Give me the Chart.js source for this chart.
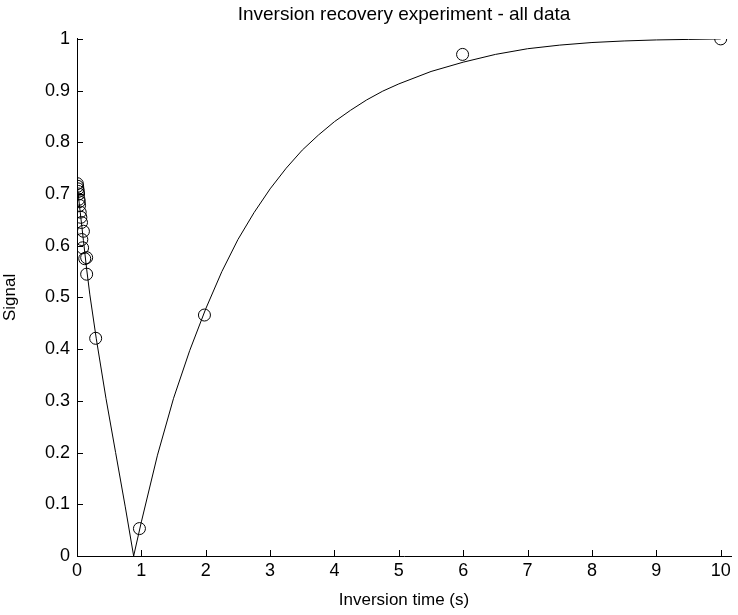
<!DOCTYPE html>
<html>
<head>
<meta charset="utf-8">
<title>Inversion recovery experiment - all data</title>
<script src="https://cdn.jsdelivr.net/npm/chart.js@4.4.1/dist/chart.umd.min.js"></script>
<style>
    html, body { margin: 0; padding: 0; background: #fff; }
    canvas { display: block; }
</style>
</head>
<body>
<canvas id="irChart" width="738" height="615"></canvas>
<script>
// measured points (inversion time in s, signal)
const measTime = [0.005, 0.01, 0.015, 0.02, 0.025, 0.03, 0.035, 0.04, 0.05, 0.06, 0.07, 0.1, 0.075, 0.087, 0.12, 0.15, 0.15, 0.29, 0.97, 1.98, 5.99, 10];
const measSignal = [0.72, 0.715, 0.71, 0.705, 0.70, 0.69, 0.685, 0.678, 0.665, 0.655, 0.645, 0.628, 0.612, 0.596, 0.575, 0.577, 0.545, 0.421, 0.053, 0.466, 0.97, 1.0];

// fitted curve
const fitTime = [0, 0.05, 0.1, 0.15, 0.2, 0.3, 0.45, 0.6, 0.75, 0.88, 1.0, 1.25, 1.5, 1.75, 2.0, 2.25, 2.5, 2.75, 3.0, 3.25, 3.5, 3.75, 4.0, 4.25, 4.5, 4.75, 5.0, 5.5, 6.0, 6.5, 7.0, 7.5, 8.0, 8.5, 9.0, 9.5, 10];
const fitSignal = [0.72, 0.665, 0.61, 0.555, 0.505, 0.42, 0.305, 0.20, 0.095, 0.0, 0.066, 0.195, 0.305, 0.397, 0.478, 0.55, 0.612, 0.664, 0.71, 0.75, 0.785, 0.814, 0.84, 0.862, 0.882, 0.899, 0.913, 0.937, 0.955, 0.97, 0.981, 0.988, 0.993, 0.996, 0.998, 0.999, 1.0];

const xTicks = [0, 1, 2, 3, 4, 5, 6, 7, 8, 9, 10];
const yTicks = [0, 0.1, 0.2, 0.3, 0.4, 0.5, 0.6, 0.7, 0.8, 0.9, 1];

const FONT = "'Liberation Sans', Arial, Helvetica, sans-serif";

// MATLAB style ticks pointing into the axes
const innerTicks = {
    id: 'innerTicks',
    afterDraw(chart) {
        const { ctx, chartArea } = chart;
        const xs = chart.scales.x;
        const ys = chart.scales.y;
        ctx.save();
        ctx.strokeStyle = '#000';
        ctx.lineWidth = 1;
        ctx.beginPath();
        xTicks.forEach(v => {
            const px = Math.round(xs.getPixelForValue(v)) + 0.5;
            ctx.moveTo(px, chartArea.bottom);
            ctx.lineTo(px, chartArea.bottom - 6);
        });
        yTicks.forEach(v => {
            const py = Math.round(ys.getPixelForValue(v)) + 0.5;
            ctx.moveTo(chartArea.left, py);
            ctx.lineTo(chartArea.left + 6, py);
        });
        ctx.stroke();
        ctx.restore();
    }
};

const ctx = document.getElementById('irChart').getContext('2d');

new Chart(ctx, {
    type: 'scatter',
    data: {
        datasets: [
            {
                label: 'fit',
                data: fitTime.map((t, i) => ({ x: t, y: fitSignal[i] })),
                showLine: true,
                borderColor: '#000',
                borderWidth: 1,
                pointRadius: 0,
                tension: 0,
                fill: false
            },
            {
                label: 'data',
                data: measTime.map((t, i) => ({ x: t, y: measSignal[i] })),
                showLine: false,
                pointStyle: 'circle',
                pointRadius: 6,
                pointBorderWidth: 1,
                pointBorderColor: '#000',
                pointBackgroundColor: 'rgba(0,0,0,0)'
            }
        ]
    },
    options: {
        responsive: false,
        animation: false,
        events: [],
        layout: { padding: { left: 0, right: 1, top: 0, bottom: 0 } },
        plugins: {
            legend: { display: false },
            tooltip: { enabled: false },
            title: {
                display: true,
                fullSize: false,
                text: 'Inversion recovery experiment - all data',
                color: '#000',
                font: { family: FONT, size: 19, weight: 'normal', lineHeight: 1.1 },
                padding: { top: 4, bottom: 14 }
            }
        },
        scales: {
            x: {
                type: 'linear',
                min: 0,
                max: 10.16,
                afterBuildTicks: scale => { scale.ticks = xTicks.map(v => ({ value: v })); },
                afterFit: scale => {
                    scale.height = 59;
                    scale.paddingLeft = 0;
                    scale.paddingRight = 0;
                },
                ticks: {
                    color: '#000',
                    padding: 4,
                    maxRotation: 0,
                    autoSkip: false,
                    font: { family: FONT, size: 18 },
                    callback: v => String(v)
                },
                grid: { drawOnChartArea: false, drawTicks: false },
                border: { display: true, color: '#000', width: 1 },
                title: {
                    display: true,
                    text: 'Inversion time (s)',
                    color: '#000',
                    font: { family: FONT, size: 17 },
                    padding: { top: 0, bottom: 4 }
                }
            },
            y: {
                type: 'linear',
                min: 0,
                max: 1,
                afterBuildTicks: scale => { scale.ticks = yTicks.map(v => ({ value: v })); },
                afterFit: scale => {
                    scale.width = 77;
                    scale.paddingTop = 0;
                    scale.paddingBottom = 0;
                },
                ticks: {
                    color: '#000',
                    padding: 7,
                    autoSkip: false,
                    font: { family: FONT, size: 18 },
                    callback: v => String(v)
                },
                grid: { drawOnChartArea: false, drawTicks: false },
                border: { display: true, color: '#000', width: 1 },
                title: {
                    display: true,
                    text: 'Signal',
                    color: '#000',
                    font: { family: FONT, size: 17 },
                    padding: { top: 0, bottom: 7 }
                }
            }
        }
    },
    plugins: [innerTicks]
});
</script>
</body>
</html>
